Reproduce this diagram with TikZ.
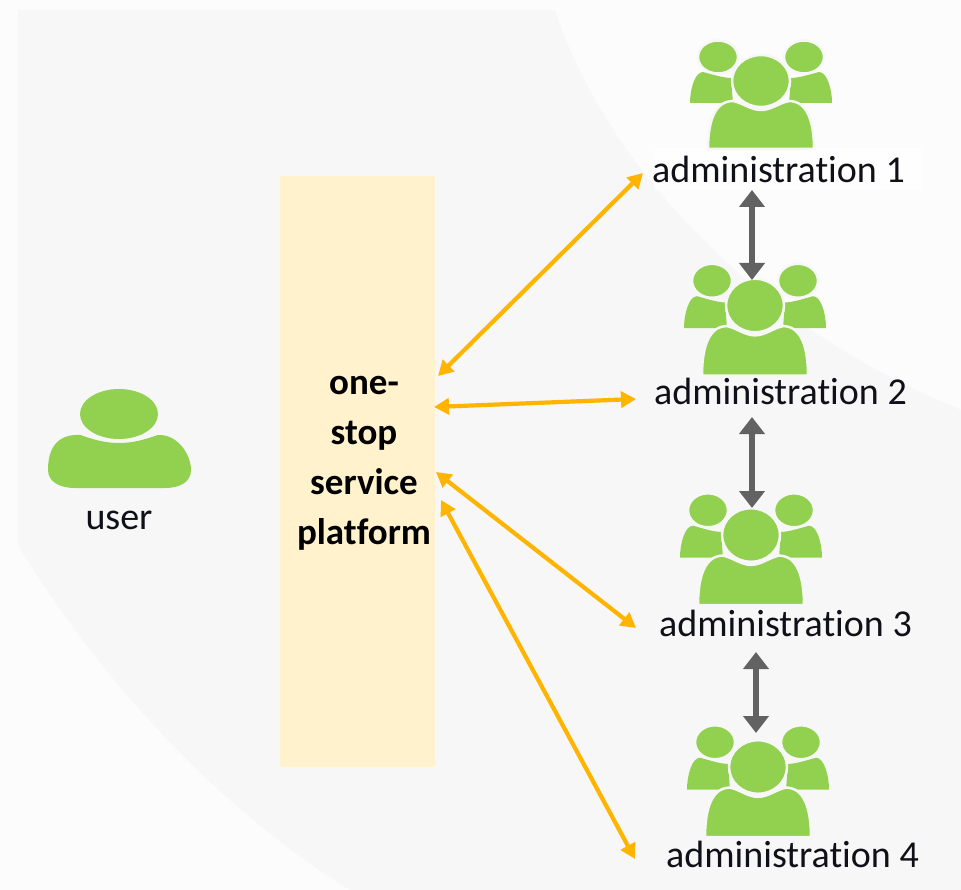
\documentclass[tikz,border=0pt]{standalone}
\usepackage{fontspec}
\setmainfont{Carlito}[Ligatures={NoCommon}]
\usetikzlibrary{arrows.meta}
\definecolor{bggray}{HTML}{F7F7F7}
\definecolor{bgwhite}{HTML}{FCFCFC}
\definecolor{labelbg}{HTML}{FEFEFE}
\definecolor{icongreen}{HTML}{92D050}
\definecolor{platfill}{HTML}{FFF2CC}
\definecolor{orangearrow}{HTML}{FFB400}
\definecolor{grayarrow}{HTML}{626262}
\definecolor{labeltext}{HTML}{101018}
\tikzset{
  label text/.style={font=\fontsize{38}{38}\selectfont, text=labeltext, inner sep=0pt, anchor=base},
  orange link/.style={draw=orangearrow, line width=4.2pt, {Triangle[length=15pt,width=16pt]}-{Triangle[length=15pt,width=16pt]}},
  gray link/.style={draw=grayarrow, line width=6pt, {Triangle[length=17pt,width=25pt]}-{Triangle[length=17pt,width=25pt]}},
  icon part/.style={fill=icongreen, draw=bggray, line width=2.5pt},
  group/.pic={
    % side shoulders
    \path[fill=icongreen] (-71,22) .. controls (-71,8) and (-66,-9) .. (-58,-9) .. controls (-50,-7) and (-38,-3) .. (-30,-3) -- (-28,22) -- cycle;
    \path[fill=icongreen] (71,22) .. controls (71,8) and (66,-9) .. (58,-9) .. controls (50,-7) and (38,-3) .. (30,-3) -- (28,22) -- cycle;
    % side heads
    \path[icon part] (-43,-24) ellipse [x radius=20, y radius=16.5];
    \path[icon part] (43,-24) ellipse [x radius=20, y radius=16.5];
    % centre body
    \path[icon part] (-53,68) .. controls (-53,40) and (-46,20) .. (-28,20) .. controls (-18,22) and (-10,29) .. (0,29) .. controls (10,29) and (18,22) .. (28,20) .. controls (46,20) and (53,40) .. (53,68) -- cycle;
    % centre head
    \path[icon part] (0,0) ellipse [x radius=29, y radius=26];
  }
}
\begin{document}
\begin{tikzpicture}[x=1pt,y=-1pt]
\useasboundingbox (0,0) rectangle (961,890);
% background
\fill[bgwhite] (0,0) rectangle (961,890);
\fill[bggray] (18,10) -- (555,10) .. controls (600,150) and (740,320) .. (961,410) -- (961,890) -- (350,890) .. controls (220,810) and (100,680) .. (18,545) -- cycle;
\fill[labelbg] (655,148) rectangle (922,190);
% platform
\node[fill=platfill, minimum width=155pt, minimum height=591pt, inner sep=0pt] (platform) at (357.5,471.5) {};
\node[font=\fontsize{37}{50}\selectfont\bfseries, text=black, align=center, inner sep=0pt, anchor=center] (platformtext) at (364,463) {one-\\stop\\service\\platform};
% user icon
\node[inner sep=0pt, minimum size=0pt] (usericon) at (119,414) {};
\fill[icongreen] (48,470) .. controls (48,445) and (60,434) .. (80,435) .. controls (95,440) and (105,443) .. (119,443) .. controls (133,443) and (143,440) .. (158,435) .. controls (178,434) and (191,455) .. (191,470) .. controls (191,482) and (180,488) .. (165,488) -- (75,488) .. controls (60,488) and (48,482) .. (48,470) -- cycle;
\fill[icongreen] (usericon) ellipse [x radius=39, y radius=25];
\node[label text] (user) at (119,529) {user};
% administration icons
\pic at (761,81) {group};
\pic[yscale=1.03] at (755,305.5) {group};
\pic[yscale=1.03] at (751,535) {group};
\pic[yscale=1.03] at (758,767) {group};
\node[label text] (a1) at (778.5,183) {administration 1};
\node[label text] (a2) at (780.5,405) {administration 2};
\node[label text] (a3) at (785.5,636) {administration 3};
\node[label text] (a4) at (792.5,867) {administration 4};
% connector ends
\coordinate (p1) at (438,376);
\coordinate (p2) at (434,407);
\coordinate (p3) at (436,472);
\coordinate (p4) at (441,500);
\coordinate (e1) at (643,173);
\coordinate (e2) at (636,399);
\coordinate (e3) at (636,628);
\coordinate (e4) at (635,859);
\draw[orange link] (p1) -- (e1);
\draw[orange link] (p2) -- (e2);
\draw[orange link] (p3) -- (e3);
\draw[orange link] (p4) -- (e4);
\coordinate (g1a) at (752,190);
\coordinate (g1b) at (752,280);
\coordinate (g2a) at (752,417);
\coordinate (g2b) at (752,508);
\coordinate (g3a) at (756,652);
\coordinate (g3b) at (756,733);
\draw[gray link] (g1a) -- (g1b);
\draw[gray link] (g2a) -- (g2b);
\draw[gray link] (g3a) -- (g3b);
\end{tikzpicture}
\end{document}
